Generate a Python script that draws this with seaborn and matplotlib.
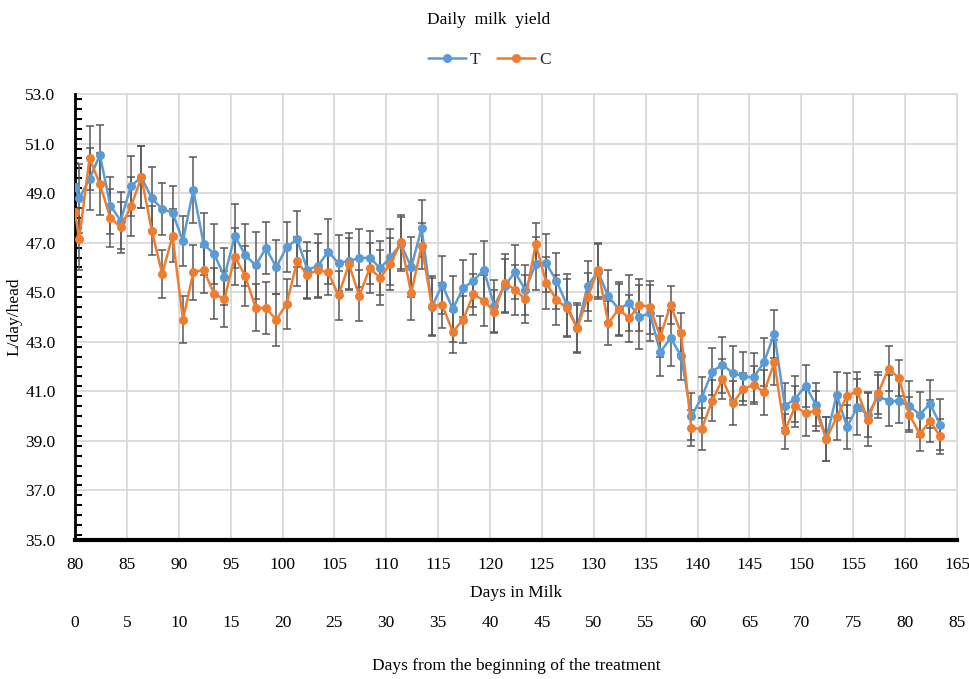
import numpy as np
import pandas as pd
import matplotlib
matplotlib.use("Agg")
import matplotlib.pyplot as plt
from matplotlib.lines import Line2D
from matplotlib.ticker import MultipleLocator, FormatStrFormatter
import seaborn as sns

# ---------------- data ----------------
days_in_milk = [80.0, 80.4] + list(np.arange(81.4, 164.0, 1.0))

t_yield = [49.26, 48.79, 49.57, 50.54, 48.50, 47.89, 49.29, 49.64, 48.79, 48.36,
           48.21, 47.07, 49.13, 46.94, 46.55, 45.63, 47.27, 46.51, 46.08, 46.78,
           46.01, 46.82, 47.14, 45.90, 46.06, 46.64, 46.17, 46.27, 46.37, 46.40,
           45.97, 46.41, 46.95, 46.01, 47.58, 44.42, 45.30, 44.32, 45.16, 45.47,
           45.90, 44.45, 45.26, 45.80, 45.10, 46.15, 46.17, 45.46, 44.49, 43.55,
           45.26, 45.83, 44.83, 44.32, 44.56, 44.00, 44.16, 42.58, 43.15, 42.44,
           39.99, 40.75, 41.80, 42.07, 41.74, 41.60, 41.56, 42.18, 43.32, 40.42,
           40.69, 41.23, 40.46, 39.08, 40.86, 39.56, 40.37, 40.06, 40.79, 40.63,
           40.59, 40.42, 40.06, 40.49, 39.65]

c_yield = [48.25, 47.14, 50.41, 49.36, 48.01, 47.62, 48.46, 49.64, 47.49, 45.74,
           47.27, 43.89, 45.80, 45.90, 44.94, 44.72, 46.44, 45.66, 44.38, 44.36,
           43.89, 44.53, 46.24, 45.70, 45.90, 45.80, 44.87, 46.13, 44.85, 45.97,
           45.59, 46.13, 47.02, 44.96, 46.87, 44.45, 44.48, 43.40, 43.89, 44.92,
           44.66, 44.22, 45.39, 45.10, 44.72, 46.95, 45.39, 44.69, 44.36, 43.55,
           44.80, 45.90, 43.75, 44.32, 43.95, 44.49, 44.40, 43.21, 44.49, 43.35,
           39.52, 39.48, 40.62, 41.49, 40.53, 41.09, 41.27, 40.96, 42.17, 39.38,
           40.39, 40.12, 40.22, 39.08, 39.95, 40.83, 41.00, 39.85, 40.93, 41.91,
           41.54, 40.06, 39.29, 39.79, 39.18]

t_err = [0.97, 1.40, 1.25, 1.21, 1.14, 1.14, 1.20, 1.25, 1.28, 1.06,
         1.07, 1.00, 1.32, 1.25, 1.20, 1.14, 1.28, 1.24, 1.34, 1.05,
         1.09, 1.00, 1.12, 1.12, 1.28, 1.30, 1.12, 1.14, 1.17, 1.08,
         1.08, 1.13, 1.08, 1.20, 1.14, 1.14, 1.17, 1.34, 1.14, 1.08,
         1.17, 1.05, 1.08, 1.09, 1.00, 1.08, 1.18, 1.13, 1.25, 1.00,
         1.00, 1.10, 1.05, 1.08, 1.12, 1.30, 1.14, 0.97, 1.14, 1.00,
         0.94, 0.82, 0.94, 1.12, 1.08, 0.97, 1.00, 0.97, 0.98, 0.90,
         0.91, 0.85, 0.87, 0.90, 0.91, 0.90, 1.14, 0.92, 0.87, 1.03,
         0.87, 0.98, 0.91, 0.98, 1.03]

c_err = [1.10, 1.25, 1.30, 1.24, 1.17, 1.02, 1.20, 1.25, 0.98, 0.98,
         1.07, 0.94, 1.10, 0.94, 1.02, 1.12, 1.16, 1.21, 0.94, 1.06,
         1.05, 1.00, 1.00, 0.97, 1.10, 0.91, 0.98, 1.05, 1.03, 1.00,
         1.12, 1.05, 1.08, 1.10, 0.94, 1.22, 0.91, 0.85, 0.94, 0.83,
         1.02, 0.87, 1.17, 1.00, 0.97, 0.86, 1.05, 1.00, 1.17, 0.95,
         0.97, 1.10, 0.90, 1.03, 0.94, 1.05, 1.07, 0.83, 0.77, 0.83,
         0.71, 0.83, 0.83, 0.81, 0.90, 0.65, 0.77, 0.90, 0.90, 0.71,
         0.81, 0.94, 0.81, 0.90, 0.91, 0.90, 0.78, 1.07, 0.85, 0.90,
         0.71, 0.71, 0.71, 0.85, 0.70]

groups = ["T", "C"]
colors = {"T": "#5B9BD5", "C": "#ED7D31"}

x_ticks_dim = list(range(80, 166, 5))
x_ticks_treat = list(range(0, 86, 5))
y_ticks = [35, 37, 39, 41, 43, 45, 47, 49, 51, 53]

# ---------------- figure ----------------
sns.set_theme(style="white")
plt.rcParams['font.family'] = ['Liberation Serif', 'DejaVu Serif']

W, H = 969, 679
fig = plt.figure(figsize=(W / 100, H / 100), dpi=100)
fig.patch.set_facecolor("white")
ax = fig.add_axes([75 / W, 1 - 540 / H, (957 - 75) / W, (540 - 94) / H])

df = pd.DataFrame({
    "day": list(days_in_milk) * 2,
    "value": t_yield + c_yield,
    "group": ["T"] * len(t_yield) + ["C"] * len(c_yield),
})

for g, vals, errs in [("T", t_yield, t_err), ("C", c_yield, c_err)]:
    ax.errorbar(days_in_milk, vals, yerr=errs, fmt="none", ecolor="#595959",
                elinewidth=1.1, capsize=3, capthick=1.1, zorder=2)

sns.lineplot(data=df, x="day", y="value", hue="group", hue_order=groups,
             palette=colors, marker="o", markersize=6.5, markeredgewidth=0,
             linewidth=1.8, ax=ax, legend=False, zorder=3, sort=False)

ax.set_xlim(80, 165)
ax.set_ylim(35, 53)
ax.set_xticks(x_ticks_dim)
ax.set_yticks(y_ticks)
ax.yaxis.set_major_formatter(FormatStrFormatter("%.1f"))
ax.yaxis.set_minor_locator(MultipleLocator(0.4))

ax.grid(True, which="major", color="#d9d9d9", linewidth=1.3)
for gl in ax.get_xgridlines() + ax.get_ygridlines():
    gl.set_clip_on(False)
ax.set_axisbelow(True)

for s in ["top", "right"]:
    ax.spines[s].set_visible(False)
ax.spines["left"].set_color("black")
ax.spines["left"].set_linewidth(2.0)
ax.spines["bottom"].set_color("black")
ax.spines["bottom"].set_linewidth(3.0)

ax.tick_params(axis="x", which="both", length=0, pad=12, labelsize=12.5, colors="black")
ax.tick_params(axis="y", which="major", direction="in", length=5, width=1.5,
               pad=14, labelsize=12.5, colors="black")
ax.tick_params(axis="y", which="minor", direction="in", length=5, width=1.5,
               colors="black", left=True)

ax.set_xlabel("Days in Milk", fontsize=12.5, labelpad=9, color="black")
ax.set_ylabel("L/day/head", fontsize=12.5, labelpad=2, color="black")

sec = ax.secondary_xaxis(-(600 - 540) / (540 - 94),
                         functions=(lambda x: x - 80, lambda x: x + 80))
sec.set_xticks(x_ticks_treat)
sec.spines["bottom"].set_visible(False)
sec.tick_params(axis="x", length=0, pad=11, labelsize=12.5, colors="black")
sec.set_xlabel("Days from the beginning of the treatment", fontsize=12.5,
               labelpad=19, color="black")

fig.text(489 / W, 1 - 20 / H, "Daily  milk  yield", ha="center", va="center",
         fontsize=12.5, color="black")

handles = [Line2D([0], [0], color=colors[g], lw=1.8, marker="o", markersize=6.5,
                  markeredgewidth=0) for g in groups]
fig.legend(handles, groups, loc="center", bbox_to_anchor=(489 / W, 1 - 60 / H),
           ncol=2, frameon=False, fontsize=12.5, handlelength=2.2,
           handletextpad=0.2, columnspacing=1.0)

fig.savefig("out.png", dpi=100, facecolor="white")
